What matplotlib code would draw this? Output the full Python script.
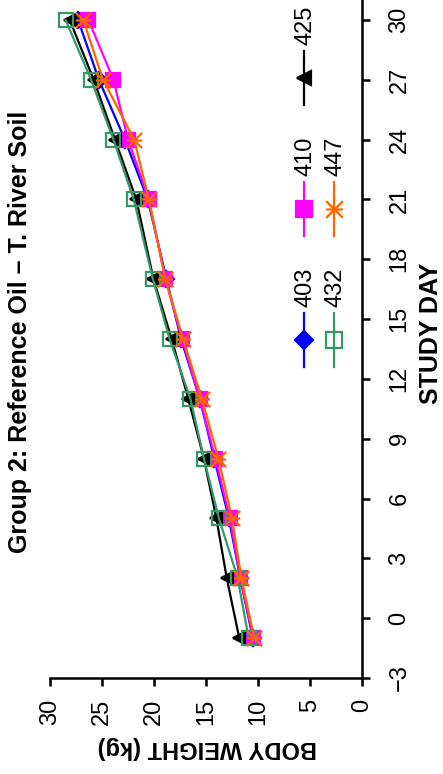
import matplotlib
matplotlib.use("Agg")
import matplotlib.pyplot as plt
from matplotlib.path import Path
from matplotlib import font_manager as fm

# --- data ---
days = [-1, 2, 5, 8, 11, 14, 17, 21, 24, 27, 30]
bw_403 = [10.5, 11.7, 12.8, 14.2, 15.6, 17.4, 18.8, 20.6, 22.8, 25.3, 27.3]
bw_410 = [10.45, 11.7, 12.7, 14.1, 15.6, 17.3, 18.9, 20.5, 22.5, 23.9, 26.3]
bw_425 = [11.8, 13.0, 14.0, 15.2, 16.7, 18.3, 20.05, 21.7, 23.75, 25.8, 28.1]
bw_432 = [10.9, 11.95, 13.75, 15.2, 16.5, 18.5, 20.1, 21.95, 23.9, 26.05, 28.5]
bw_447 = [10.35, 11.6, 12.5, 13.8, 15.4, 17.2, 18.9, 20.5, 21.9, 24.9, 26.8]
animals = ["403", "410", "425", "432", "447"]
weight_ticks = [0, 5, 10, 15, 20, 25, 30]
day_ticks = [-3, 0, 3, 6, 9, 12, 15, 18, 21, 24, 27, 30]

# fonts: narrow face for tick labels if present
names = {f.name for f in fm.fontManager.ttflist}
NARROW = "Liberation Sans Narrow" if "Liberation Sans Narrow" in names else "Liberation Sans"
SANS = "Liberation Sans"

# asterisk marker (x with a bar), as it appears after the page rotation
asterisk = Path([(-1, -1), (1, 1), (-1, 1), (1, -1), (-1, 0), (1, 0)],
                [Path.MOVETO, Path.LINETO, Path.MOVETO, Path.LINETO, Path.MOVETO, Path.LINETO])

styles = {
    "403": dict(color="#0000FF", marker="D", mfc="#0000FF", ms=8),
    "410": dict(color="#FF00FF", marker="s", mfc="#FF00FF", ms=10.5),
    "425": dict(color="#000000", marker="<", mfc="#000000", ms=9),
    "432": dict(color="#339966", marker="s", mfc="none", ms=10.5),
    "447": dict(color="#FF6600", marker=asterisk, mfc="none", ms=11),
}
series = dict(zip(animals, [bw_403, bw_410, bw_425, bw_432, bw_447]))

fig = plt.figure(figsize=(4.43, 7.74), dpi=100)
# whole chart is turned 90 deg: weight runs along the bottom (30 -> 0), day runs up the right side
ax = fig.add_axes([50 / 443, 1 - 678 / 774, 312 / 443, 678 / 774])

for a in animals:
    st = styles[a]
    ax.plot(series[a], days, color=st["color"], lw=1.6, marker=st["marker"],
            ms=st["ms"], mfc=st["mfc"], mec=st["color"], mew=1.6, clip_on=False)

ax.set_xlim(30, 0)
ax.set_ylim(-3, 31)
ax.spines["top"].set_visible(False)
ax.spines["left"].set_visible(False)
ax.spines["bottom"].set_linewidth(1.8)
ax.spines["right"].set_linewidth(1.8)
ax.yaxis.tick_right()
ax.set_xticks(weight_ticks)
ax.set_yticks(day_ticks)
ax.tick_params(axis="both", direction="out", length=6, width=1.8)
ax.tick_params(axis="x", pad=9)
ax.tick_params(axis="y", pad=13)
for lab in ax.get_xticklabels():
    lab.set_rotation(90)
    lab.set_fontfamily(NARROW)
    lab.set_fontsize(17)
for lab in ax.get_yticklabels():
    lab.set_rotation(90)
    lab.set_fontfamily(NARROW)
    lab.set_fontsize(17)
    lab.set_va("center")

# legend drawn by hand so the entries can be turned with the page
leg_pos = {"403": (0.814, 0.499), "410": (0.814, 0.692), "425": (0.814, 0.885),
           "432": (0.910, 0.499), "447": (0.910, 0.692)}
half = 0.040
for a in animals:
    st = styles[a]
    lx, ly = leg_pos[a]
    ax.plot([lx, lx], [ly - half, ly + half], color=st["color"], lw=1.6,
            transform=ax.transAxes, clip_on=False)
    ax.plot([lx], [ly], marker=st["marker"], ms=st["ms"] + 1, mfc=st["mfc"],
            mec=st["color"], mew=1.6, transform=ax.transAxes, clip_on=False)
    ax.text(lx + 0.005, ly + half + 0.008, a, rotation=90, ha="center", va="bottom",
            fontsize=17, family=SANS, transform=ax.transAxes)

fig.text(20 / 443, 1 - 332 / 774, "Group 2: Reference Oil \u2013 T. River Soil",
         rotation=90, ha="center", va="center", fontsize=18, fontweight="bold", family=SANS)
fig.text(431 / 443, 1 - 333 / 774, "STUDY DAY", rotation=90, ha="center", va="center",
         fontsize=18, fontweight="bold", family=NARROW)
fig.text(207 / 443, 1 - 747 / 774, "BODY WEIGHT (kg)", rotation=180, ha="center", va="center",
         fontsize=17, fontweight="bold", family=SANS)

fig.savefig("out.png", dpi=100)
